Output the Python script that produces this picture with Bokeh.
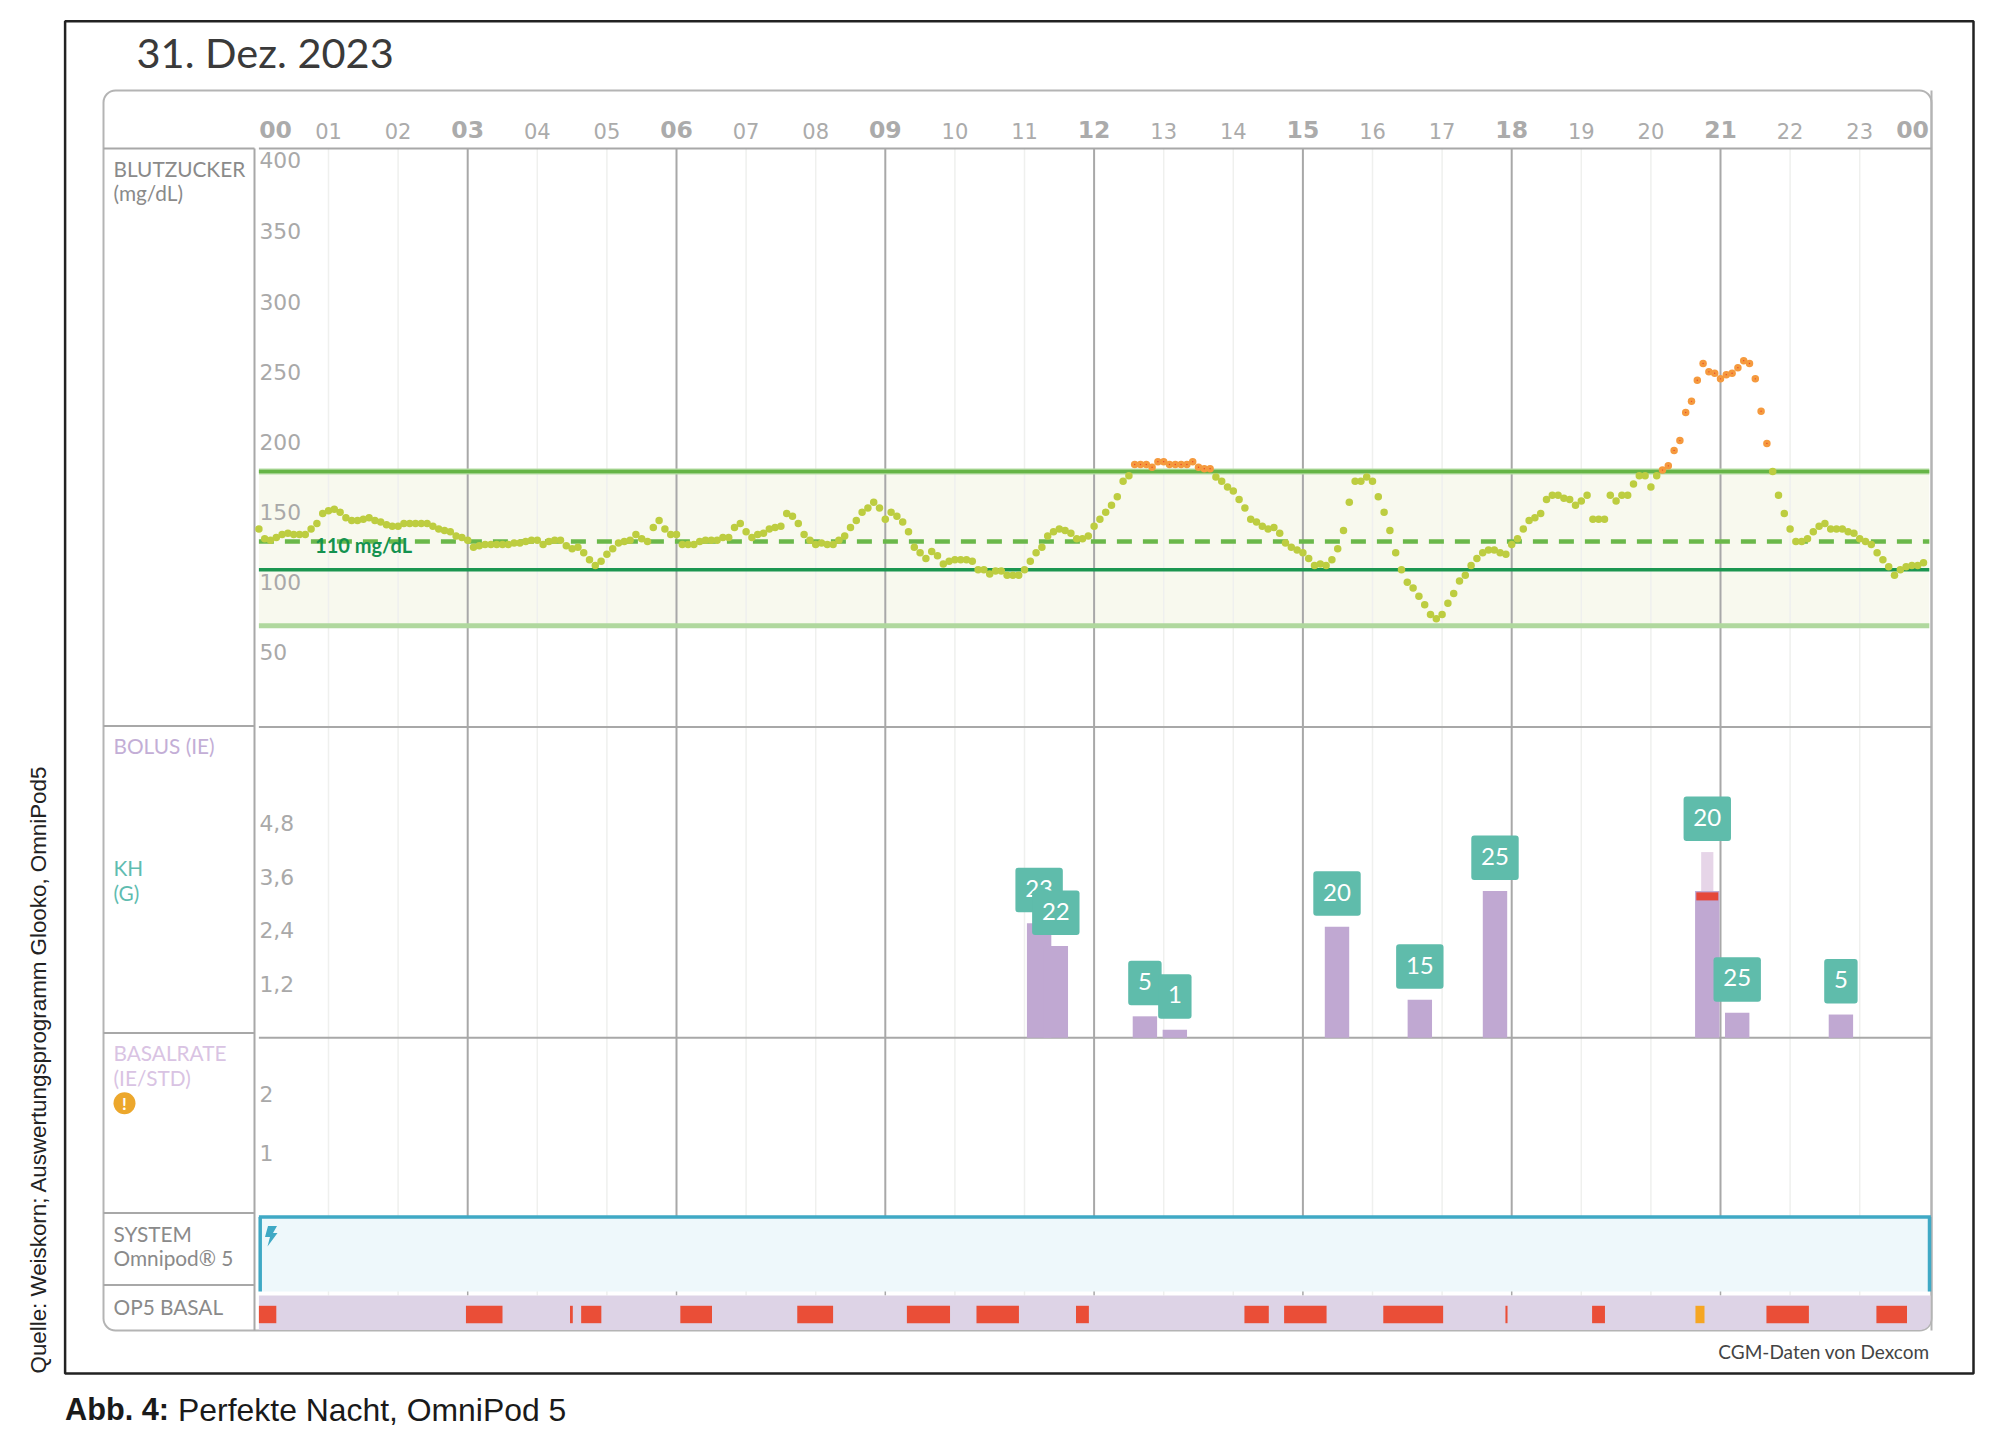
from bokeh.plotting import figure
from bokeh.models import Range1d
from bokeh.core.properties import value
from bokeh.embed import file_html
from bokeh.resources import INLINE

# ---------- data ----------
major_hours = [0, 3, 6, 9, 12, 15, 18, 21, 24]
major_labels = ["00", "03", "06", "09", "12", "15", "18", "21", "00"]
minor_hours = [1, 2, 4, 5, 7, 8, 10, 11, 13, 14, 16, 17, 19, 20, 22, 23]
minor_labels = ["01", "02", "04", "05", "07", "08", "10", "11", "13", "14", "16", "17", "19", "20", "22", "23"]
glucose_ticks = [400, 350, 300, 250, 200, 150, 100, 50]
bolus_ticks = [4.8, 3.6, 2.4, 1.2]
bolus_tick_labels = ["4,8", "3,6", "2,4", "1,2"]
basal_ticks = [2, 1]
target_high = 180
target_low = 70
target_mid = 130
target_solid = 110

# one reading every 5 minutes, mg/dL
glucose = [
    139, 132, 131, 133, 135, 136, 135, 135, 135, 139, 143, 150,
    152, 153, 151, 147, 145, 145, 146, 147, 145, 144, 142, 141,
    141, 143, 143, 143, 143, 143, 141, 139, 138, 137, 134, 133,
    131, 126, 127, 128, 128, 128, 128, 128, 129, 129, 130, 131,
    131, 128, 130, 131, 131, 127, 125, 126, 122, 117, 113, 116,
    121, 125, 129, 130, 131, 135, 132, 130, 140, 145, 139, 135,
    135, 128, 128, 128, 130, 131, 131, 131, 133, 133, 140, 143,
    137, 133, 135, 136, 139, 140, 141, 150, 148, 143, 135, 131,
    128, 129, 128, 128, 131, 134, 140, 145, 151, 154, 158, 154,
    146, 151, 148, 144, 137, 126, 122, 118, 123, 120, 114, 116,
    117, 117, 117, 116, 110, 110, 107, 109, 109, 106, 106, 106,
    110, 116, 122, 126, 134, 137, 139, 138, 136, 132, 132, 134,
    141, 146, 151, 156, 162, 173, 177, 185, 185, 185, 183, 187,
    187, 185, 185, 185, 185, 187, 183, 182, 182, 176, 173, 169,
    166, 160, 154, 146, 144, 141, 139, 140, 136, 129, 126, 124,
    122, 118, 113, 114, 113, 117, 125, 138, 158, 173, 173, 176,
    173, 162, 151, 138, 122, 110, 101, 97, 91, 85, 78, 75,
    78, 86, 93, 102, 106, 113, 118, 122, 124, 124, 122, 121,
    128, 132, 139, 145, 147, 150, 160, 163, 163, 161, 160, 156,
    159, 163, 146, 146, 146, 163, 159, 163, 163, 171, 177, 177,
    169, 177, 181, 184, 195, 202, 222, 230, 245, 257, 251, 250,
    246, 249, 250, 254, 259, 257, 246, 223, 200, 180, 163, 150,
    139, 130, 130, 132, 137, 141, 143, 139, 139, 139, 137, 136,
    132, 130, 128, 122, 117, 112, 106, 110, 112, 113, 113, 115,
]
glucose_hours = [i * 5 / 60 for i in range(len(glucose))]

bolus_hours = [11.21, 11.45, 12.73, 13.16, 15.49, 16.68, 17.76, 20.81, 21.24, 22.73]
bolus_units = [2.56, 2.05, 0.48, 0.18, 2.48, 0.85, 3.28, 3.28, 0.56, 0.52]
carbs = ["23", "22", "5", "1", "20", "15", "25", "20", "25", "5"]
extended_hour = 20.81
extended_total = 4.15
marker_top = 3.25
marker_bottom = 3.07
label_tops = [2.56, 2.05, 0.48, 0.18, 2.48, 0.85, 3.28, 4.15, 0.56, 0.52]

basal_start = [0.0, 2.975, 4.47, 4.63, 6.055, 7.735, 9.31, 10.31, 11.74, 14.16, 14.73, 16.155, 17.91, 19.155, 21.66, 23.24]
basal_end = [0.25, 3.50, 4.51, 4.92, 6.51, 8.25, 9.93, 10.92, 11.925, 14.51, 15.34, 17.015, 17.94, 19.34, 22.27, 23.68]
limit_start = [20.64]
limit_end = [20.77]

# ---------- canvas geometry ----------
W, H = 1992, 1428
OX, OY = 1, 0
X0, HPX = 259.4, 69.6


def y_span(zero_px, px_per_unit, base=0.0):
    return Range1d(start=base + (zero_px - (OY + H)) / px_per_unit,
                   end=base + (zero_px - OY) / px_per_unit)


p = figure(width=W, height=H, toolbar_location=None, output_backend="svg",
           x_axis_location=None, y_axis_location=None, min_border=0,
           x_range=Range1d((OX - X0) / HPX, (OX + W - X0) / HPX),
           y_range=Range1d(OY + H, OY), background_fill_color="white",
           border_fill_color="white", outline_line_color=None)
p.grid.visible = False
p.extra_x_ranges = {"px": Range1d(OX, OX + W)}
GLU_PX, BOL_PX, BAS_PX = 1.403, 44.75, 58.6
p.extra_y_ranges = {
    "glucose": y_span(625.3, GLU_PX, 70),
    "bolus": y_span(1037.3, BOL_PX),
    "basal": y_span(1211, BAS_PX),
}
GREY = "#a8a8a8"
LABEL = "#8a8a8a"
TICK = "#a9a9a9"


def txt(x, y, s, size, color, font="Lato", style="normal", align="left", angle=0, yr="default", dy=-1.5):
    p.text(x=[x], y=[y], text=[s], x_range_name="px", y_range_name=yr, y_offset=dy,
           text_font=value(font), text_font_size=f"{size}px", text_font_style=style,
           text_color=color, text_align=align, text_baseline="middle", angle=angle)


# outer frame and chart panel
p.quad(left=[65.6], right=[1974], top=[20.8], bottom=[1373], x_range_name="px",
       fill_color=None, line_color="#222222", line_width=2.5)
p.quad(left=[104], right=[1932], top=[90], bottom=[1330], x_range_name="px",
       fill_color=None, line_color="#b4b4b4", line_width=2, border_radius=12)

# label column lines
p.segment(x0=[255], x1=[255], y0=[148], y1=[1330], x_range_name="px", line_color=GREY, line_width=2)
p.segment(x0=[104] * 5, x1=[255] * 5, y0=[148, 725.5, 1032.6, 1212.6, 1284.6],
          y1=[148, 725.5, 1032.6, 1212.6, 1284.6], x_range_name="px", line_color=GREY, line_width=2)

# target band
p.quad(left=[0], right=[24], top=[target_high], bottom=[target_low], y_range_name="glucose",
       fill_color="#f8f9ee", line_color=None)

# hour grid
p.segment(x0=minor_hours, x1=minor_hours, y0=[148] * 16, y1=[1216] * 16,
          line_color="#eff0ee", line_width=1.5)
p.segment(x0=minor_hours, x1=minor_hours, y0=[1290] * 16, y1=[1295] * 16,
          line_color="#eff0ee", line_width=1.5)
p.segment(x0=major_hours[1:-1], x1=major_hours[1:-1], y0=[148] * 7, y1=[1216] * 7,
          line_color=GREY, line_width=2)
p.segment(x0=major_hours[1:-1], x1=major_hours[1:-1], y0=[1290] * 7, y1=[1295] * 7,
          line_color=GREY, line_width=1.5)
p.segment(x0=[1932], x1=[1932], y0=[90], y1=[1330], x_range_name="px", line_color="#b4b4b4", line_width=2)

# section rules
p.segment(x0=[0, 0, 0], x1=[24.03, 24.03, 24.03], y0=[148, 726.6, 1037.3], y1=[148, 726.6, 1037.3],
          line_color=GREY, line_width=2)

# target lines
p.segment(x0=[0], x1=[24], y0=[target_high], y1=[target_high], y_range_name="glucose", line_color="#b5dca3", line_width=6)
p.segment(x0=[0], x1=[24], y0=[target_high], y1=[target_high], y_range_name="glucose", line_color="#66b546", line_width=3.5)
p.segment(x0=[0], x1=[24], y0=[target_low], y1=[target_low], y_range_name="glucose", line_color="#b0d89e", line_width=5)
p.segment(x0=[0], x1=[24], y0=[target_mid], y1=[target_mid], y_range_name="glucose", line_color="#6ab84a", line_width=4.5,
          line_dash="15 11")
p.segment(x0=[0], x1=[24], y0=[target_solid], y1=[target_solid], y_range_name="glucose", line_color="#1b9650", line_width=3.5)

# glucose readings
in_h = [h for h, g in zip(glucose_hours, glucose) if g <= target_high]
in_g = [g for g in glucose if g <= target_high]
hi_h = [h for h, g in zip(glucose_hours, glucose) if g > target_high]
hi_g = [g for g in glucose if g > target_high]
p.scatter(in_h, in_g, y_range_name="glucose", size=7.5, fill_color="#bdcd40", line_color=None)
p.scatter(hi_h, hi_g, y_range_name="glucose", size=7.5, fill_color="#f59a3e", line_color=None)
p.scatter(hi_h, hi_g, y_range_name="glucose", size=1.4, fill_color="#e8452c", line_color=None)

# bolus bars, extended part, marker
BW = 24.4 / HPX
p.vbar(x=[extended_hour], top=[extended_total], bottom=[3.2], width=BW / 2, y_range_name="bolus",
       fill_color="#e6d5e8", line_color=None)
p.vbar(x=bolus_hours, top=bolus_units, bottom=0, width=BW, y_range_name="bolus",
       fill_color="#c0a8d2", line_color=None)
p.quad(left=[extended_hour - BW * 0.45], right=[extended_hour + BW * 0.45], top=[marker_top], bottom=[marker_bottom],
       y_range_name="bolus", fill_color="#e5473a", line_color=None)

# carbohydrate tags
for h, top, c in zip(bolus_hours, label_tops, carbs):
    half = (23.7 if len(c) == 2 else 16.7) / HPX
    b = top + 11 / BOL_PX
    t = b + 44.5 / BOL_PX
    p.quad(left=[h - half], right=[h + half], bottom=[b], top=[t], y_range_name="bolus",
           fill_color="#5fbcab", line_color=None, border_radius=3)
    p.text(x=[h], y=[(b + t) / 2], y_offset=-1.5, text=[c], y_range_name="bolus", text_font=value("Lato"),
           text_font_size="24px", text_color="white", text_align="center", text_baseline="middle")

# system band
p.quad(left=[260.7], right=[1930], top=[1216], bottom=[1291], x_range_name="px", fill_color="#eef8fb", line_color=None)
p.segment(x0=[260.7, 259.4, 1930], x1=[260.7, 1931.4, 1930], y0=[1291, 1216.5, 1291], y1=[1216.5, 1216.5, 1216.5],
          x_range_name="px", line_color="#3fa9c5", line_width=3.5)
p.patch(x=[268.5, 265.5, 270.5, 268, 278, 273.5, 277.5], y=[1225.5, 1236.5, 1236.5, 1246, 1232.5, 1232.5, 1225.5],
        x_range_name="px", fill_color="#3fa9c5", line_color=None)

# basal band
p.quad(left=[259.4], right=[1931], top=[1295], bottom=[1329.5], x_range_name="px", fill_color="#ddd3e6",
       line_color=None, border_radius=(0, 0, 10, 0))
p.quad(left=basal_start, right=basal_end, top=[1305.3] * len(basal_start), bottom=[1322.7] * len(basal_start),
       fill_color="#ea4e37", line_color=None)
p.quad(left=limit_start, right=limit_end, top=[1305.3], bottom=[1322.7], fill_color="#f5a623", line_color=None)

# hour labels
for h, s in zip(minor_hours, minor_labels):
    p.text(x=[h], y=[130.7], text=[s], text_font=value("DejaVu Sans"), text_font_size="21px",
           text_color="#ababab", text_align="center", text_baseline="middle")
for i, (h, s) in enumerate(zip(major_hours, major_labels)):
    dx = 0.24 if i == 0 else (-0.24 if i == len(major_hours) - 1 else 0)
    p.text(x=[h + dx], y=[129], text=[s], text_font=value("DejaVu Sans"), text_font_size="23.5px",
           text_font_style="bold", text_color="#ababab", text_align="center", text_baseline="middle")

# value labels
for v in glucose_ticks:
    txt(260, v, str(v), 21.8, TICK, font="DejaVu Sans", yr="glucose", dy=-3 if v == 400 else -1.5)
for v, s in zip(bolus_ticks, bolus_tick_labels):
    txt(260, v, s, 21.8, TICK, font="DejaVu Sans", yr="bolus", dy=0)
for v in basal_ticks:
    txt(260, v, str(v), 21.8, TICK, font="DejaVu Sans", yr="basal", dy=0)

# texts
txt(137, 53, "31. Dez. 2023", 41.5, "#3a3a3a")
txt(114, 169, "BLUTZUCKER", 20.8, LABEL)
txt(114, 193.5, "(mg/dL)", 20.8, LABEL)
txt(114, 746, "BOLUS (IE)", 20.8, "#c3aed6")
txt(114, 868.7, "KH", 20.8, "#5fbcb0")
txt(114, 893, "(G)", 20.8, "#5fbcb0")
txt(114, 1053, "BASALRATE", 20.8, "#d9c3e3")
txt(114, 1078, "(IE/STD)", 20.8, "#d9c3e3")
p.scatter([125], [1102.7], x_range_name="px", size=22, fill_color="#eca72c", line_color=None)
txt(125, 1102.7, "!", 17, "white", style="bold", align="center", dy=0)
txt(114, 1234, "SYSTEM", 20.8, LABEL)
txt(114, 1258, "Omnipod® 5", 20.8, LABEL)
txt(114, 1307, "OP5 BASAL", 20.8, LABEL)
txt(315.6, 546, "110 mg/dL", 20, "#14924f", style="bold")
txt(1930, 1353, "CGM-Daten von Dexcom", 19, "#444444", align="right", dy=-2)
txt(65.6, 1409, "Abb. 4:", 30.7, "#1a1a1a", font="Liberation Sans", style="bold", dy=0)
txt(178.6, 1409, "Perfekte Nacht, OmniPod 5", 31.9, "#1a1a1a", font="Liberation Sans", dy=0)
txt(38.8, 1373, "Quelle: Weiskorn; Auswertungsprogramm Glooko, OmniPod5", 22.35, "#222222",
    font="Liberation Sans", angle=1.5708, dy=0)

open("out.html", "w").write(file_html(p, INLINE))
